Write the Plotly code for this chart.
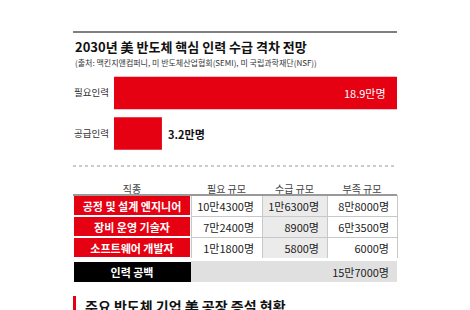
import plotly.graph_objects as go

# ---------------- data ----------------
title_text = "2030년 美 반도체 핵심 인력 수급 격차 전망"
source_text = "(출처: 맥킨지앤컴퍼니, 미 반도체산업협회(SEMI), 미 국립과학재단(NSF))"
bar_categories = ["필요인력", "공급인력"]
bar_values = [18.9, 3.2]
bar_unit = "만명"

table_header = ["직종", "필요 규모", "수급 규모", "부족 규모"]
job_types = ["공정 및 설계 엔지니어", "장비 운영 기술자", "소프트웨어 개발자"]
need_scale = ["10만4300명", "7만2400명", "1만1800명"]
supply_scale = ["1만6300명", "8900명", "5800명"]
shortage_scale = ["8만8000명", "6만3500명", "6000명"]
gap_label = "인력 공백"
gap_total = "15만7000명"
next_section = "주요 반도체 기업 美 공장 증설 현황"

# ---------------- style ----------------
W, H = 470, 310
RED = "#e50012"
FONT = "Noto Sans CJK KR"
LEFT, RIGHT = 73, 397


def px_x(p):
    return p / W


def px_y(p):
    return 1 - p / H


fig = go.Figure()

# bars
fig.add_trace(go.Bar(
    x=bar_values, y=bar_categories, orientation="h",
    marker=dict(color=RED, line=dict(width=0)), width=0.8,
    hoverinfo="skip", showlegend=False,
))

# value labels via data scale
fig.add_annotation(x=bar_values[0], y=bar_categories[0], xref="x", yref="y",
                   text=f"{bar_values[0]}{bar_unit}", showarrow=False,
                   xanchor="right", xshift=-9,
                   font=dict(family=FONT, size=11, color="white"))
fig.add_annotation(x=bar_values[1], y=bar_categories[1], xref="x", yref="y",
                   text=f"<b>{bar_values[1]}{bar_unit}</b>", showarrow=False,
                   xanchor="left", xshift=4,
                   font=dict(family=FONT, size=11, color="#111"))

# tables
col_widths = [118, 71, 65, 70]
n = len(job_types)
fig.add_trace(go.Table(
    domain=dict(x=[px_x(LEFT), px_x(RIGHT)], y=[px_y(258), px_y(177)]),
    columnwidth=col_widths,
    header=dict(values=table_header, height=18,
                fill=dict(color="white"), line=dict(color="white", width=0),
                align="center", font=dict(family=FONT, size=10, color="#444")),
    cells=dict(values=[job_types, need_scale, supply_scale, shortage_scale],
               height=21,
               fill=dict(color=[[RED] * n, ["white"] * n, ["#ebebeb"] * n, ["white"] * n]),
               line=dict(color=["white", "#c8c8c8", "#c8c8c8", "#c8c8c8"], width=[2, 1, 1, 1]),
               align=["center", "right", "right", "right"],
               font=dict(family=FONT, size=11,
                         color=["white", "#222", "#222", "#222"],
                         weight=["bold", "normal", "normal", "normal"])),
))
# "인력 공백" row, drawn as a header-only table
fig.add_trace(go.Table(
    domain=dict(x=[px_x(LEFT), px_x(RIGHT)], y=[px_y(283), px_y(261)]),
    columnwidth=[col_widths[0], sum(col_widths[1:])],
    header=dict(values=[gap_label, gap_total], height=21,
                fill=dict(color=["black", "#e0e0e0"]),
                line=dict(color=["white", "#e0e0e0"], width=[1, 0]),
                align=["center", "right"],
                font=dict(family=FONT, size=11, color=["white", "#222"],
                          weight=["bold", "normal"])),
    cells=dict(values=[[], []], height=0, line=dict(width=0)),
))

# titles and decorations
fig.add_annotation(x=px_x(LEFT), y=px_y(35), xref="paper", yref="paper",
                   text=f"<b>{title_text}</b>", showarrow=False,
                   xanchor="left", yanchor="top",
                   font=dict(family=FONT, size=13, color="#111"))
fig.add_annotation(x=px_x(LEFT), y=px_y(55), xref="paper", yref="paper",
                   text=source_text, showarrow=False,
                   xanchor="left", yanchor="top",
                   font=dict(family=FONT, size=8, color="#333"))
fig.add_annotation(x=px_x(83), y=px_y(294), xref="paper", yref="paper",
                   text=f"<b>{next_section}</b>", showarrow=False,
                   xanchor="left", yanchor="top",
                   font=dict(family=FONT, size=14, color="#111"))

shapes = [
    dict(type="line", xref="paper", yref="paper", x0=px_x(LEFT), x1=px_x(RIGHT),
         y0=px_y(32), y1=px_y(32), line=dict(color="#555", width=1.5)),
    dict(type="line", xref="paper", yref="paper", x0=px_x(LEFT), x1=px_x(RIGHT),
         y0=px_y(166), y1=px_y(166), line=dict(color="#999", width=1, dash="dot")),
    dict(type="line", xref="paper", yref="paper", x0=px_x(LEFT), x1=px_x(RIGHT),
         y0=px_y(195), y1=px_y(195), line=dict(color="#999", width=2)),
    dict(type="rect", xref="paper", yref="paper", x0=px_x(73), x1=px_x(76),
         y0=px_y(296), y1=px_y(312), line=dict(width=0), fillcolor=RED),
]

fig.update_layout(
    width=W, height=H, margin=dict(l=0, r=0, t=0, b=0),
    paper_bgcolor="white", plot_bgcolor="white",
    font=dict(family=FONT),
    shapes=shapes,
    xaxis=dict(domain=[px_x(114), px_x(RIGHT)], range=[0, bar_values[0]],
               visible=False, fixedrange=True),
    yaxis=dict(domain=[px_y(153.75), px_y(72.75)], autorange="reversed",
               showgrid=False, zeroline=False, showline=False, ticks="",
               ticklabelstandoff=4,
               tickfont=dict(family=FONT, size=9.5, color="#333"),
               fixedrange=True),
)

fig.write_html("out.html")
